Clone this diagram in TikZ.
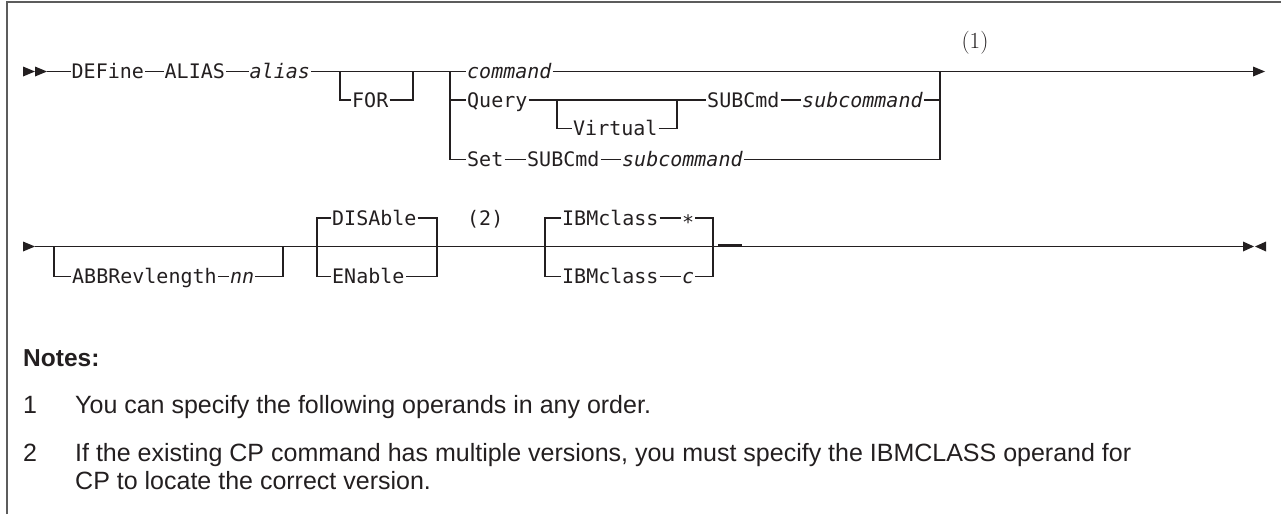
\documentclass[tikz,border=0pt]{standalone}
\usepackage{fontspec}
\newfontfamily\synfont{DejaVu Sans Mono}[ItalicFont={DejaVu Sans Mono Oblique}]
\newfontfamily\notefont{Liberation Sans}
\definecolor{ink}{HTML}{231F20}
\definecolor{rulegray}{HTML}{5C5C5C}
\begin{document}
\begin{tikzpicture}[x=1pt,y=-1pt,
  tok/.style={font=\synfont\fontsize{20}{24}\selectfont, text=ink, inner xsep=1pt,
    inner ysep=0pt, text height=14.6pt, text depth=0pt, anchor=west},
  var/.style={tok, font=\synfont\itshape\fontsize{20}{24}\selectfont},
  track/.style={draw=ink, line width=1.4pt},
  note/.style={font=\notefont\fontsize{25}{30}\selectfont, text=ink, inner sep=0pt, anchor=base west},
  notehead/.style={font=\notefont\bfseries\fontsize{24.5}{29}\selectfont, text=ink, inner sep=0pt, anchor=base west}]
\useasboundingbox (0,0) rectangle (1281,514);

% frame
\coordinate (fbl) at (7,514);
\coordinate (ftl) at (7,2);
\coordinate (ftr) at (1281,2);
\draw[rulegray, line width=2pt] (fbl) -- (ftl) -- (ftr);

% ---------------- first line ----------------
\coordinate (s1a) at (23,71.5);
\coordinate (s1b) at (35,71.5);
\coordinate (s1) at (47,71.5);
\fill[ink] (s1a) ++(0,-5) -- (s1b) -- ++(-12,5) -- cycle;
\fill[ink] (s1b) ++(0,-5) -- (s1) -- ++(-12,5) -- cycle;

\node[tok] (define) at (70.5,71.5) {DEFine};
\node[tok] (aliaskw) at (163.5,71.5) {ALIAS};
\node[var] (aliasv) at (248.5,71.5) {alias};
\node[tok] (for) at (351,100) {FOR};
\coordinate (forL) at (340,71.5);
\coordinate (forR) at (413,71.5);
\coordinate (chL) at (450,71.5);
\coordinate (chR) at (940,71.5);
\node[var] (cmd) at (466,71.5) {command};
\node[tok] (query) at (466,100) {Query};
\coordinate (vL) at (557,100);
\coordinate (vR) at (677,100);
\node[tok] (virt) at (572,128.5) {Virtual};
\node[tok] (qsub) at (706,100) {SUBCmd};
\node[var] (qsubv) at (801,100) {subcommand};
\node[tok] (set) at (466,159.5) {Set};
\node[tok] (ssub) at (526,159.5) {SUBCmd};
\node[var] (ssubv) at (621,159.5) {subcommand};
\coordinate (e1) at (1253,71.5);
\node[font=\fontsize{23}{27}\selectfont, text=ink, inner sep=0pt] (fn1) at (975,43) {(1)};

\draw[track] (s1) -- (define.west) (define.east) -- (aliaskw.west)
  (aliaskw.east) -- (aliasv.west) (aliasv.east) -- (chL) -- (cmd.west)
  (cmd.east) -- (e1);
\draw[track] (forL) |- (for.west) (for.east) -| (forR);
\draw[track] (chL) |- (set.west);
\draw[track] (chL |- query.west) -- (query.west) (query.east) -- (qsub.west)
  (qsub.east) -- (qsubv.west) (qsubv.east) -- (chR |- qsubv.east);
\draw[track] (vL) |- (virt.west) (virt.east) -| (vR);
\draw[track] (set.east) -- (ssub.west) (ssub.east) -- (ssubv.west)
  (ssubv.east) -| (chR);
\fill[ink] (e1) ++(0,-5) -- ++(12,5) -- ++(-12,5) -- cycle;

% ---------------- second line ----------------
\coordinate (s2a) at (23,246.5);
\coordinate (s2) at (35,246.5);
\fill[ink] (s2a) ++(0,-5) -- (s2) -- ++(-12,5) -- cycle;

\coordinate (abL) at (54,246.5);
\coordinate (abR) at (283,246.5);
\node[tok] (abbrev) at (71,276.5) {ABBRevlength};
\node[var] (nn) at (229,276.5) {nn};
\coordinate (dL) at (317,246.5);
\coordinate (dR) at (437,246.5);
\node[tok] (dis) at (331,218) {DISAble};
\node[tok] (en) at (331,276.5) {ENable};
\node[tok] (fn2) at (466,218) {(2)};
\coordinate (iL) at (545,246.5);
\coordinate (iR) at (713,246.5);
\node[tok] (ibm1) at (561,218) {IBMclass};
\node[tok] (star) at (681,218) {\raisebox{-4pt}{*}};
\node[tok] (ibm2) at (561,276.5) {IBMclass};
\node[var] (cval) at (681,276.5) {c};
\coordinate (m1) at (718,245.5);
\coordinate (m2) at (742,245.5);
\coordinate (e2) at (1243,246.5);
\coordinate (e2r) at (1266,246.5);

\draw[track] (s2) -- (e2);
\draw[track] (abL) |- (abbrev.west) (abbrev.east) -- (nn.west) (nn.east) -| (abR);
\draw[track] (dis.west) -| (dL |- en.west) -- (en.west);
\draw[track] (dis.east) -| (dR |- en.east) -- (en.east);
\draw[track] (ibm1.west) -| (iL |- ibm2.west) -- (ibm2.west);
\draw[track] (ibm1.east) -- (star.west) (star.east) -| (iR |- cval.east) -- (cval.east);
\draw[track] (ibm2.east) -- (cval.west);
\draw[ink, line width=2.4pt] (m1) -- (m2);
\fill[ink] (e2) ++(0,-5) -- ++(11,5) -- ++(-11,5) -- cycle;
\fill[ink] (e2r) ++(0,-5) -- ++(-11,5) -- ++(11,5) -- cycle;

% ---------------- notes ----------------
\node[notehead] (notes) at (23,366) {Notes:};
\node[note] (num1) at (23,413) {1};
\node[note] (txt1) at (75,413) {You can specify the following operands in any order.};
\node[note] (num2) at (23,461) {2};
\node[note] (txt2) at (75,461) {If the existing CP command has multiple versions, you must specify the IBMCLASS operand for};
\node[note] (txt2b) at (75,489) {CP to locate the correct version.};
\end{tikzpicture}
\end{document}
